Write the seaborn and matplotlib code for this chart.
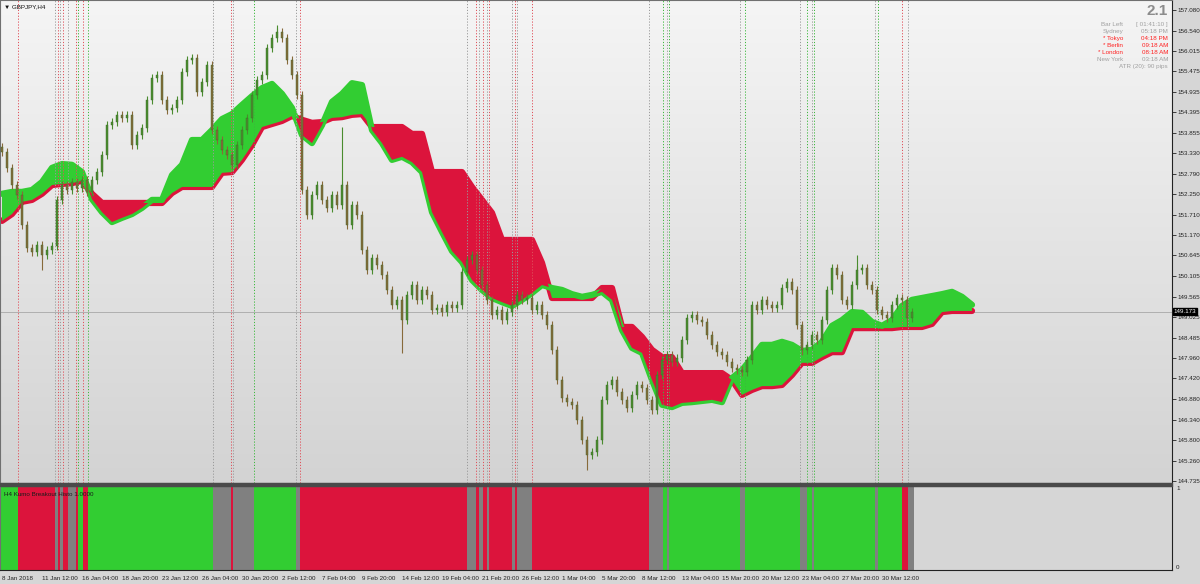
import numpy as np
import matplotlib
matplotlib.use("Agg")
import matplotlib.pyplot as plt
from matplotlib.colors import LinearSegmentedColormap
from matplotlib.patches import Rectangle
import matplotlib.transforms as mtransforms
import seaborn as sns

# H4 closes, one per drawn candle
open_first = 153.50
closes = [
    153.36, 152.94, 152.49, 152.23, 151.44, 150.84, 150.74, 150.92, 150.66, 150.79,
    150.89, 152.10, 152.49, 152.36, 152.57, 152.41, 152.62, 152.31, 152.62, 152.83,
    153.28, 154.06, 154.14, 154.33, 154.25, 154.33, 153.54, 153.80, 153.99, 154.72,
    155.30, 155.37, 154.72, 154.46, 154.51, 154.72, 155.45, 155.77, 155.82, 154.93,
    155.19, 155.64, 153.93, 153.67, 153.41, 153.28, 153.02, 153.54, 153.93, 154.25,
    154.85, 155.24, 155.37, 156.08, 156.34, 156.50, 156.34, 155.77, 155.37, 154.85,
    152.36, 151.71, 152.23, 152.49, 152.10, 151.89, 152.23, 151.97, 152.49, 151.44,
    151.97, 151.71, 150.79, 150.26, 150.58, 150.39, 150.13, 149.74, 149.35, 149.48,
    148.95, 149.61, 149.87, 149.48, 149.74, 149.61, 149.21, 149.27, 149.16, 149.35,
    149.27, 149.35, 150.21, 150.53, 150.66, 150.26, 149.87, 149.48, 149.08, 149.21,
    148.95, 149.16, 149.35, 149.61, 149.48, 149.53, 149.21, 149.35, 149.08, 148.82,
    148.17, 147.38, 146.91, 146.80, 146.73, 146.33, 145.81, 145.41, 145.49, 145.81,
    146.86, 147.25, 147.38, 147.07, 146.86, 146.65, 146.99, 147.25, 147.17, 146.86,
    146.60, 147.51, 147.91, 148.04, 147.85, 147.96, 148.43, 149.01, 149.08, 148.95,
    148.90, 148.56, 148.30, 148.11, 148.04, 147.85, 147.69, 147.64, 147.59, 147.91,
    149.35, 149.21, 149.48, 149.35, 149.27, 149.35, 149.79, 149.95, 149.74, 148.82,
    148.17, 148.30, 148.56, 148.43, 148.95, 149.74, 150.32, 150.13, 149.48, 149.35,
    149.87, 150.26, 150.32, 149.87, 149.74, 149.21, 149.08, 149.01, 149.35, 149.53,
    149.48, 149.01, 149.16,
]
# long wicks worth showing
spike_bars = [8, 55, 68, 80, 117, 160, 171, 181]
spike_prices = [150.26, 156.68, 154.01, 148.09, 145.02, 148.04, 150.66, 148.77]

# Ichimoku cloud, sampled every second bar (runs 26 bars past price)
cloud_bars = list(range(0, 196, 2))
span_a = [
    152.26, 152.31, 152.31, 152.36, 152.57, 152.94, 153.04, 153.02, 152.83, 152.12,
    151.78, 151.52, 151.63, 151.73, 151.89, 152.10, 152.10, 152.75, 153.02, 153.67,
    153.67, 153.93, 154.22, 154.35, 154.59, 154.82, 155.03, 155.14, 154.88, 154.51,
    153.80, 153.59, 154.06, 154.67, 154.88, 155.16, 155.11, 153.93, 153.59, 153.15,
    153.23, 153.09, 152.83, 151.78, 151.26, 150.76, 150.47, 150.00, 149.74, 149.53,
    149.42, 149.32, 149.48, 149.66, 149.87, 149.79, 149.74, 149.63, 149.56, 149.61,
    149.69, 149.48, 148.69, 148.22, 148.09, 147.38, 146.73, 146.67, 146.78, 146.80,
    146.83, 146.86, 146.80, 147.43, 147.64, 147.96, 148.30, 148.30, 148.38, 148.30,
    148.14, 148.17, 148.38, 148.80, 148.95, 149.16, 149.14, 148.90, 148.80, 148.95,
    149.32, 149.48, 149.53, 149.58, 149.63, 149.69, 149.56, 149.35,
]
span_b = [
    151.55, 151.73, 152.05, 152.10, 152.26, 152.49, 152.52, 152.54, 152.60, 152.26,
    152.02, 152.02, 152.02, 152.02, 152.02, 152.02, 152.02, 152.28, 152.44, 152.44,
    152.44, 152.44, 152.81, 152.83, 153.15, 153.54, 154.01, 154.09, 154.17, 154.30,
    154.20, 154.12, 154.14, 154.25, 154.27, 154.33, 154.35, 154.01, 154.01, 154.01,
    154.01, 153.83, 153.83, 152.83, 152.83, 152.83, 152.83, 152.44, 152.10, 151.76,
    151.05, 151.05, 151.05, 151.05, 150.45, 149.53, 149.53, 149.53, 149.53, 149.53,
    149.79, 149.79, 148.77, 148.77, 148.51, 148.17, 147.98, 147.98, 147.56, 147.56,
    147.56, 147.56, 147.56, 147.38, 146.99, 147.12, 147.22, 147.22, 147.25, 147.51,
    147.83, 147.83, 147.98, 148.11, 148.11, 148.74, 148.74, 148.74, 148.74, 148.74,
    148.77, 148.77, 148.77, 148.85, 149.16, 149.19, 149.19, 149.19,
]
last_price = 149.173

# Kumo breakout histogram: G = above cloud, R = below, X = inside
histo_edges = [
    -0.4, 3.2, 10.6, 11.2, 11.6, 12.2, 13.2, 14.8, 15.2, 16.2, 17.2, 42.2, 45.8, 46.2,
    50.4, 58.8, 59.6, 93.0, 94.8, 95.4, 96.2, 97.0, 97.4, 102.0, 102.6, 103.0, 106.0,
    129.4, 132.2, 133.0, 133.4, 147.6, 148.6, 159.6, 161.0, 162.0, 162.4, 174.6, 175.2,
    180.0, 181.2, 182.4,
]
histo_states = list("GRXRXRXRGRGXRXGXRXRXRXRXRXRXGXGXGXGXGXGRX")

date_labels = [
    "8 Jan 2018", "11 Jan 12:00", "16 Jan 04:00", "18 Jan 20:00", "23 Jan 12:00",
    "26 Jan 04:00", "30 Jan 20:00", "2 Feb 12:00", "7 Feb 04:00", "9 Feb 20:00",
    "14 Feb 12:00", "19 Feb 04:00", "21 Feb 20:00", "26 Feb 12:00", "1 Mar 04:00",
    "5 Mar 20:00", "8 Mar 12:00", "13 Mar 04:00", "15 Mar 20:00", "20 Mar 12:00",
    "23 Mar 04:00", "27 Mar 20:00", "30 Mar 12:00",
]
price_ticks = [
    157.080, 156.540, 156.015, 155.475, 154.935, 154.395, 153.855, 153.330, 152.790,
    152.250, 151.710, 151.170, 150.645, 150.105, 149.565, 149.025, 148.485, 147.960,
    147.420, 146.880, 146.340, 145.800, 145.260, 144.735,
]
info_names = ["Bar Left", "Sydney", "* Tokyo", "* Berlin", "* London", "New York"]
info_values = ["[ 01:41:10 ]", "05:18 PM", "04:18 PM", "09:18 AM", "08:18 AM", "03:18 AM"]
info_active = [False, False, True, True, True, False]

sns.set_style("white")
plt.rcParams["font.family"] = ["Liberation Sans", "DejaVu Sans"]
FS = 4.5

GREEN = "#32cd32"
RED = "#dc143c"
GRAY = "#808080"
state_color = {"G": GREEN, "R": RED, "X": GRAY}
line_color = {"G": "#3cb83c", "R": "#e0505a", "X": "#9a9a9a"}

W, H = 1200, 584
fig = plt.figure(figsize=(W / 100, H / 100), dpi=100, facecolor="#d6d6d6")
ax = fig.add_axes([0, (H - 483) / H, 1172 / W, 483 / H])
axh = fig.add_axes([0, (H - 570) / H, 1172 / W, 84 / H])
fig.patches.append(Rectangle((0, (H - 486) / H), 1172 / W, 3 / H,
                             transform=fig.transFigure, color="#4a4a4a", zorder=5))

# background gradient of the price window
bg = LinearSegmentedColormap.from_list("bg", ["#f5f5f5", "#d3d3d3"])
ax.imshow(np.linspace(0, 1, 256)[:, None], cmap=bg, aspect="auto",
          extent=(0, 1, 0, 1), transform=ax.transAxes, zorder=0)

# cloud: lines under the fill so only the lower edge line shows
a = np.array(span_a)
b = np.array(span_b)
sns.lineplot(x=cloud_bars, y=span_b, color=RED, lw=4.5, ax=ax, zorder=2, legend=False)
sns.lineplot(x=cloud_bars, y=span_a, color=GREEN, lw=4.5, ax=ax, zorder=2, legend=False)
ax.fill_between(cloud_bars, a, b, where=a >= b, color=GREEN, interpolate=True, lw=0, zorder=3)
ax.fill_between(cloud_bars, a, b, where=a < b, color=RED, interpolate=True, lw=0, zorder=3)

# breakout markers
for edge, st in zip(histo_edges[1:-1], histo_states[1:]):
    ax.axvline(edge, color=line_color[st], ls=(0, (1.2, 1.8)), lw=0.7, zorder=3.5)
ax.axhline(last_price, color="#a8a8a8", lw=0.6, zorder=1)

# candles
bars = np.arange(len(closes))
c = np.array(closes)
o = np.array([open_first] + closes[:-1])
lo = np.minimum(o, c)
hi = np.maximum(o, c)
cols = np.where(c >= o, "#4a8c2e", "#876a3a")
ax.vlines(bars, lo - 0.1, hi + 0.1, colors=cols, lw=0.8, zorder=4)
ax.vlines(spike_bars, c[spike_bars], spike_prices, colors=cols[spike_bars], lw=0.8, zorder=4)
ax.bar(bars, np.maximum(hi - lo, 0.03), bottom=lo, width=0.55, color=cols,
       edgecolor="#3d6b2a", lw=0.3, zorder=5)

ax.set_xlim(-0.4, 234.0)
ax.set_ylim(144.68, 157.34)
ax.yaxis.tick_right()
ax.set_yticks(price_ticks)
ax.set_yticklabels([f"{p:.3f}" for p in price_ticks])
ax.tick_params(axis="y", length=3, width=0.6, direction="out", pad=1.2,
               labelsize=FS, colors="#222222")
ax.tick_params(axis="x", bottom=False, labelbottom=False)
for s in ax.spines.values():
    s.set_color("#707070")
    s.set_linewidth(0.8)
ax.spines["right"].set_color("#222222")

ytr = mtransforms.blended_transform_factory(ax.transAxes, ax.transData)
ax.text(1.0015, last_price, f"{last_price:.3f}", transform=ytr, fontsize=FS,
        color="white", va="center", ha="left",
        bbox=dict(boxstyle="square,pad=0.15", fc="black", ec="black"), zorder=10,
        clip_on=False)

ax.text(0.003, 0.992, "\u25bc GBPJPY,H4", transform=ax.transAxes, fontsize=FS,
        va="top", ha="left", color="#111111", zorder=10)

# info panel
ax.text(0.9966, 0.992, "2.1", transform=ax.transAxes, fontsize=11, fontweight="bold",
        color="#8c8c8c", va="top", ha="right", zorder=10)
for k, (nm, val, act) in enumerate(zip(info_names, info_values, info_active)):
    yy = 0.950 - k * 0.0145
    col = "#ff2020" if act else "#a0a0a0"
    ax.text(0.9585, yy, nm, transform=ax.transAxes, fontsize=FS, color=col,
            ha="right", va="center", zorder=10)
    ax.text(0.9966, yy, val, transform=ax.transAxes, fontsize=FS, color=col,
            ha="right", va="center", zorder=10)
ax.text(0.9966, 0.950 - 6 * 0.0145, "ATR (20): 90 pips", transform=ax.transAxes,
        fontsize=FS, color="#a0a0a0", ha="right", va="center", zorder=10)

# histogram window
axh.set_facecolor("#d6d6d6")
lefts = np.array(histo_edges[:-1])
widths = np.diff(histo_edges)
axh.bar(lefts, 1.0, width=widths, align="edge",
        color=[state_color[s] for s in histo_states], lw=0)
axh.set_xlim(-0.4, 234.0)
axh.set_ylim(0, 1)
axh.yaxis.tick_right()
axh.set_yticks([0, 1])
axh.set_yticklabels(["0", "1"])
yl = axh.get_yticklabels()
yl[0].set_va("bottom")
yl[1].set_va("top")
axh.tick_params(axis="y", length=0, pad=3, labelsize=FS, colors="#222222")
axh.set_xticks(np.arange(0, 177, 8))
axh.set_xticklabels(date_labels, ha="left")
axh.tick_params(axis="x", length=3, width=0.6, direction="out", pad=1,
                labelsize=FS, colors="#222222")
for s in axh.spines.values():
    s.set_color("#707070")
    s.set_linewidth(0.8)
axh.spines["right"].set_color("#222222")
axh.spines["bottom"].set_color("#222222")
axh.text(0.003, 0.93, "H4 Kumo Breakout Histo 1.0000", transform=axh.transAxes,
         fontsize=FS, color="#1a1a1a", va="top", ha="left")

fig.savefig("out.png", dpi=100, facecolor=fig.get_facecolor())
